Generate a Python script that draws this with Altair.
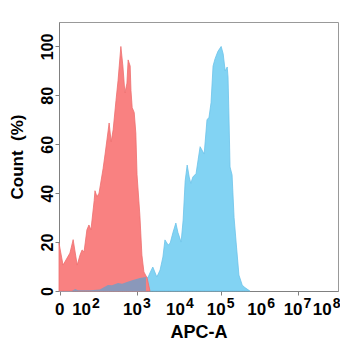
import altair as alt
import pandas as pd

# x values are display positions on the biexponential axis (decade units)
red_x = [0.00, 0.10, 0.27, 0.35, 0.45, 0.52, 0.57, 0.62, 0.69, 0.74, 0.79, 0.87, 0.89,
         0.94, 0.99, 1.09, 1.14, 1.24, 1.29, 1.34, 1.41, 1.46, 1.53, 1.58, 1.63, 1.68,
         1.71, 1.76, 1.78, 1.81, 1.86, 1.90, 1.93, 2.00, 2.05, 2.10, 2.18, 2.25]
red_y = [19.6, 10.6, 15.5, 21.0, 10.6, 14.7, 16.8, 16.0, 25.0, 27.0, 25.0, 37.0, 41.0,
         38.5, 40.0, 50.0, 56.0, 68.7, 61.0, 66.0, 78.0, 86.0, 100.0, 92.0, 81.0, 85.0,
         94.5, 92.0, 82.0, 75.0, 73.0, 64.6, 47.5, 31.0, 14.7, 7.8, 5.3, 0.0]

blue_x = [0.00, 0.32, 0.40, 0.47, 0.77, 1.01, 1.11, 1.21, 1.31, 1.46, 1.56, 1.68, 1.83,
          2.00, 2.15, 2.20, 2.25, 2.32, 2.42, 2.50, 2.57, 2.62, 2.70, 2.75, 2.82, 2.89,
          2.94, 3.02, 3.07, 3.12, 3.17, 3.22, 3.26, 3.31, 3.39, 3.44, 3.49, 3.59, 3.66,
          3.71, 3.76, 3.81, 3.86, 3.93, 4.01, 4.06, 4.11, 4.16, 4.18, 4.20, 4.23, 4.28,
          4.33, 4.38, 4.45, 4.53, 4.58, 4.65, 4.72]
blue_y = [0.0, 0.0, 0.8, 0.3, 0.3, 0.6, 1.5, 2.5, 2.4, 3.3, 3.0, 3.7, 4.5,
          5.3, 5.7, 5.5, 7.4, 9.8, 5.7, 8.6, 13.9, 20.9, 18.8, 19.6, 24.0, 27.8,
          24.0, 20.0, 29.0, 45.0, 51.5, 46.6, 44.0, 46.6, 48.0, 53.6, 59.0, 56.0, 70.0,
          71.0, 77.0, 92.0, 95.0, 98.0, 100.0, 97.0, 90.0, 91.6, 87.5, 74.0, 50.7, 47.5,
          30.0, 20.0, 6.5, 2.5, 1.6, 0.8, 0.0]

zero_pos = [0.02]
zero_text = ["0"]
dec_pos = [0.67, 1.93, 2.99, 4.0, 5.0, 5.9, 6.62]
dec_base = ["10", "10", "10", "10", "10", "10", "10"]
dec_exp = ["2", "3", "4", "5", "6", "7", "8"]
y_ticks = [0, 20, 40, 60, 80, 100]
overlap_max = 2.18

red = pd.DataFrame({"x": red_x, "y": red_y})
blue = pd.DataFrame({"x": blue_x, "y": blue_y})
zero_df = pd.DataFrame({"x": zero_pos, "t": zero_text})
dec_df = pd.DataFrame({"x": dec_pos, "b": dec_base, "e": dec_exp})

FONT = "Liberation Sans"

x_scale = alt.Scale(domain=[0, 6.9], nice=False, zero=False)
x_enc = alt.X("x:Q", scale=x_scale,
              axis=alt.Axis(values=zero_pos + dec_pos, labels=False, title="APC-A",
                            grid=False, tickSize=4,
                            titleFont=FONT, titleFontSize=18, titleFontWeight="bold",
                            titleY=46, titleBaseline="alphabetic",
                            domainColor="#808080", tickColor="#808080",
                            titleColor="black"))
y_enc = alt.Y("y:Q", scale=alt.Scale(domain=[0, 110], nice=False),
              axis=alt.Axis(values=y_ticks, title="Count\u00a0\u00a0(%)", grid=False,
                            tickSize=4, labelPadding=3, labelAngle=270,
                            labelAlign="center", labelBaseline="alphabetic",
                            labelFontSize=16, labelFontWeight="bold", labelFont=FONT,
                            titleFont=FONT, titleFontSize=17, titleFontWeight="bold",
                            titleAngle=270, titleX=-37, titleY=134.5,
                            titleBaseline="alphabetic", titleAlign="center",
                            domainColor="#808080", tickColor="#808080",
                            labelColor="black", titleColor="black"))

blue_layer = alt.Chart(blue).mark_area(color="#82D3F3", stroke="#6CC3EA",
                                       strokeWidth=0.8, opacity=1).encode(x=x_enc, y=y_enc)
red_layer = alt.Chart(red).mark_area(color="#F98181", stroke="#EE6E6E",
                                     strokeWidth=0.8, opacity=1).encode(x=x_enc, y=y_enc)
overlap_layer = alt.Chart(blue).transform_filter(
    alt.datum.x <= overlap_max
).mark_area(color="#8A98BA", opacity=1).encode(x=x_enc, y=y_enc)

zero_layer = alt.Chart(zero_df).mark_text(
    font=FONT, fontSize=17, fontWeight="bold", align="center", baseline="alphabetic",
    color="black"
).encode(x=alt.X("x:Q", scale=x_scale), y=alt.value(293), text="t:N")
base_layer = alt.Chart(dec_df).mark_text(
    font=FONT, fontSize=17, fontWeight="bold", align="right", baseline="alphabetic",
    dx=5, color="black"
).encode(x=alt.X("x:Q", scale=x_scale), y=alt.value(293), text="b:N")
exp_layer = alt.Chart(dec_df).mark_text(
    font=FONT, fontSize=14, fontWeight="bold", align="left", baseline="alphabetic",
    dx=6, color="black"
).encode(x=alt.X("x:Q", scale=x_scale), y=alt.value(286), text="e:N")

chart = alt.layer(blue_layer, red_layer, overlap_layer,
                  zero_layer, base_layer, exp_layer).properties(
    width=279, height=269,
    autosize=alt.AutoSizeParams(type="none"),
    padding={"left": 51, "top": 14, "right": 2, "bottom": 51},
).configure_view(stroke="#999999", strokeWidth=1)

chart.save("out.html", embed_options={"renderer": "svg", "actions": False})
